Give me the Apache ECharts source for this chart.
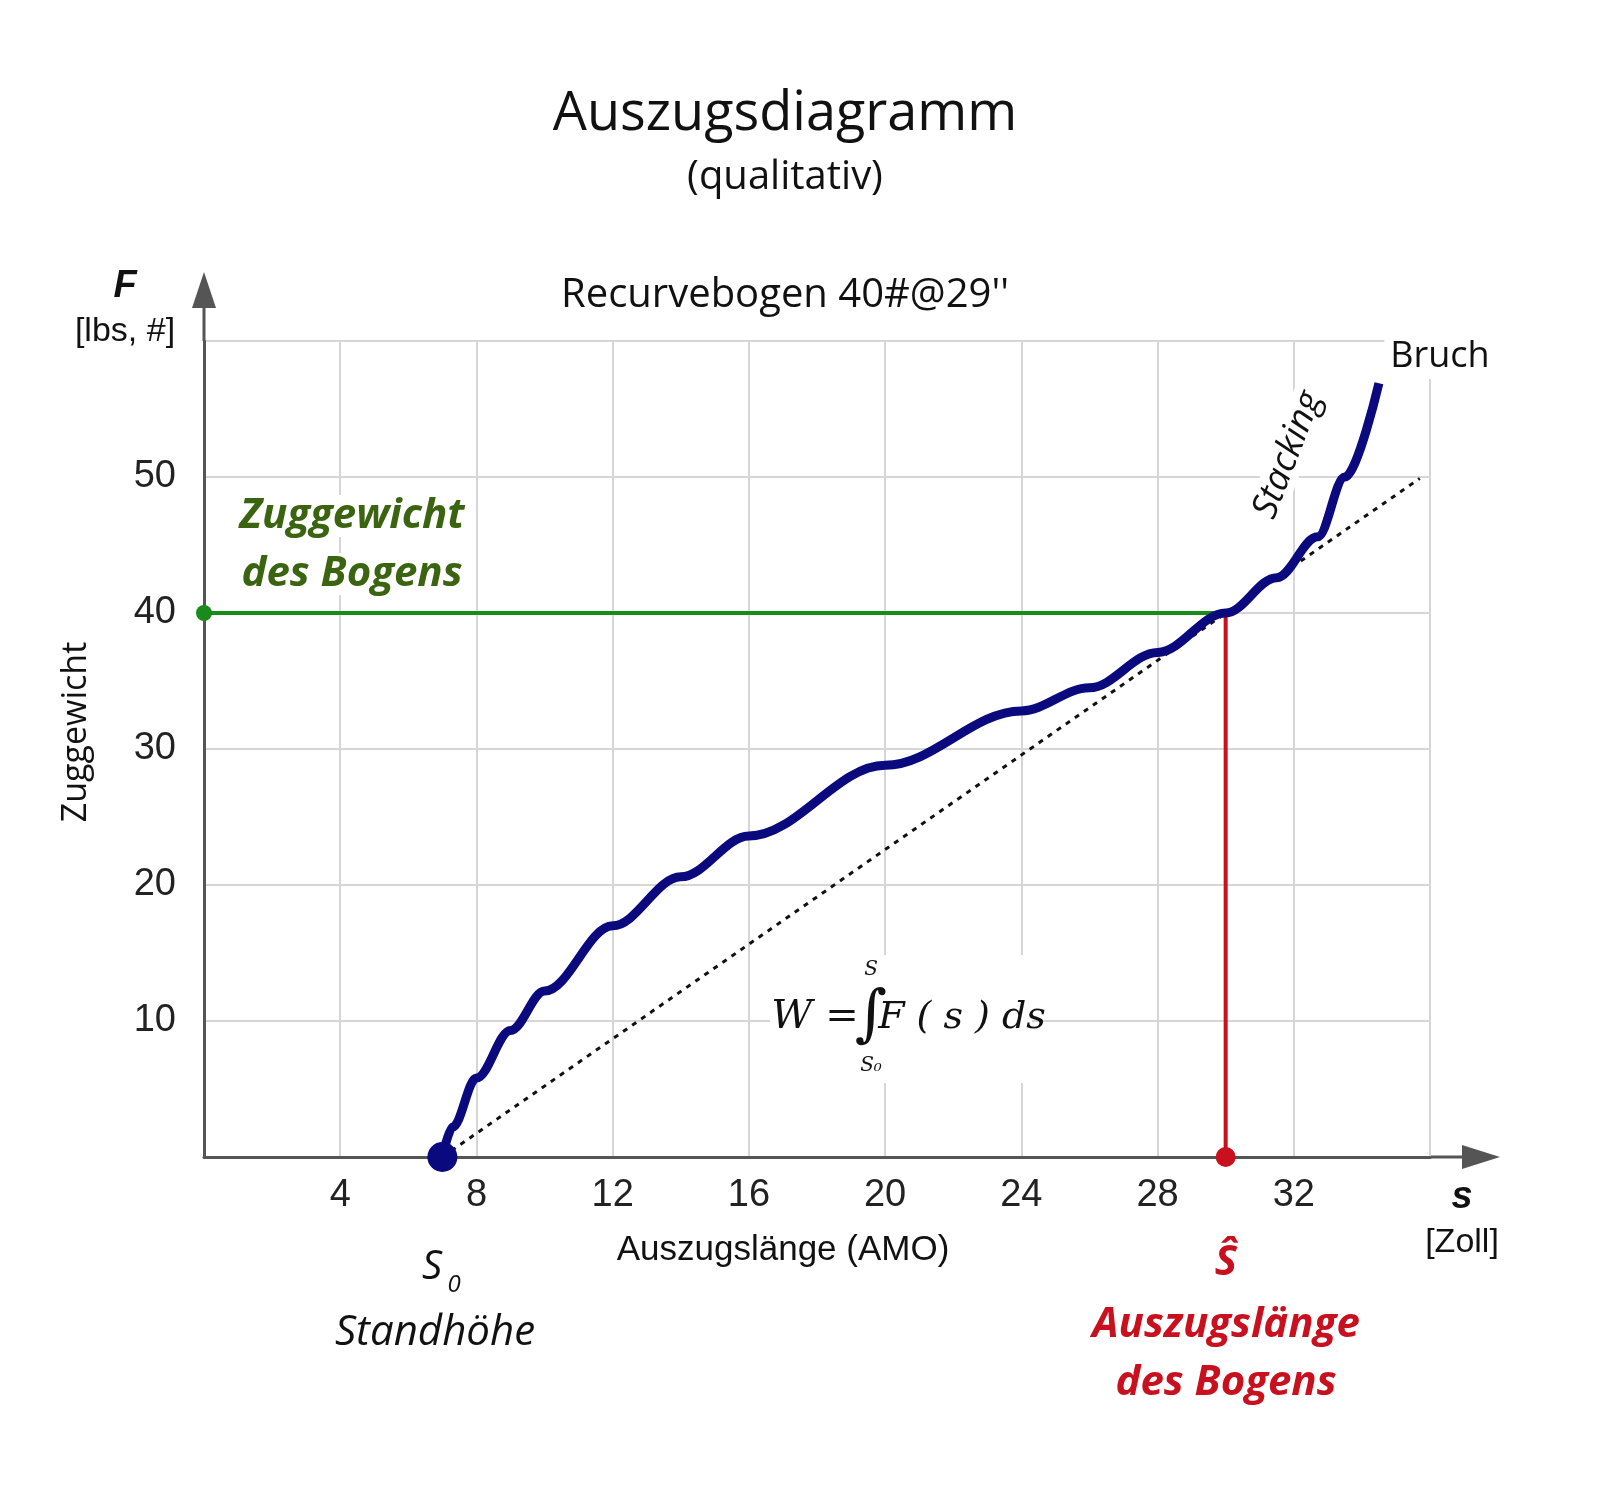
<!DOCTYPE html>
<html>
<head>
<meta charset="utf-8">
<script src="https://cdn.jsdelivr.net/npm/echarts@6/dist/echarts.min.js"></script>
<style>html,body{margin:0;background:#fff}#chart{width:1600px;height:1495px}</style>
</head>
<body>
<div id="chart"></div>
<script>
// Auszugskurve (s in Zoll, F in lbs)
var curveS = [7, 7.3, 8, 9, 10, 12, 14, 16, 20, 24, 26, 28, 30, 31.5, 32.7, 33.5, 34.5];
var curveF = [0, 2.2, 5.8, 9.3, 12.2, 17, 20.6, 23.6, 28.8, 32.8, 34.5, 37.1, 40, 42.6, 45.6, 50, 56.9];
var lineS = [7, 35.7];
var lineF = [0, 49.9];
var drawWeight = 40;
var drawLength = 30;
var xTicks = [4, 8, 12, 16, 20, 24, 28, 32];
var yTicks = [10, 20, 30, 40, 50];

function pairs(a, b) { return a.map(function (v, i) { return [v, b[i]]; }); }

function txt(x, y, text, font, fill, extra) {
    var o = { type: 'text', x: x, y: y, z: 100,
        style: { text: text, font: font, fill: fill || '#111', align: 'center', verticalAlign: 'middle' } };
    if (extra) { for (var k in extra) { if (k === 'style') { for (var s in extra.style) o.style[s] = extra.style[s]; } else o[k] = extra[k]; } }
    return o;
}

var myChart = echarts.init(document.getElementById('chart'));
var option = {
    animation: false,
    grid: { left: 204, right: 170, top: 341, bottom: 338 },
    xAxis: {
        type: 'value', min: 0, max: 36, interval: 4,
        axisLine: { lineStyle: { color: '#555', width: 3 } },
        axisTick: { show: false },
        axisLabel: {
            fontSize: 38, color: '#222', fontFamily: 'Liberation Sans', margin: 20,
            formatter: function (v) { return xTicks.indexOf(v) >= 0 ? v : ''; }
        },
        splitLine: { lineStyle: { color: '#d6d6d6', width: 2 } }
    },
    yAxis: {
        type: 'value', min: 0, max: 60, interval: 10,
        axisLine: { lineStyle: { color: '#555', width: 3 } },
        axisTick: { show: false },
        axisLabel: {
            fontSize: 38, color: '#222', fontFamily: 'Liberation Sans', margin: 28,
            formatter: function (v) { return yTicks.indexOf(v) >= 0 ? v : ''; }
        },
        splitLine: { lineStyle: { color: '#d6d6d6', width: 2 } }
    },
    series: [
        {
            type: 'line', data: pairs(lineS, lineF), symbol: 'none',
            lineStyle: { color: '#111', width: 3, type: [5, 6] }, z: 2
        },
        {
            type: 'line', data: [[0, drawWeight], [drawLength, drawWeight]],
            symbol: 'none', lineStyle: { color: '#1a8a1a', width: 4 }, z: 3
        },
        {
            type: 'line', data: [[drawLength, 0], [drawLength, drawWeight]],
            symbol: 'none', lineStyle: { color: '#c8101e', width: 4 }, z: 3
        },
        {
            type: 'line', data: pairs(curveS, curveF), smooth: 0.35, smoothMonotone: 'x', symbol: 'none',
            lineStyle: { color: '#0a0a7e', width: 9 }, z: 4
        },
        {
            type: 'scatter', symbolSize: 16, z: 5, data: [[0, drawWeight]],
            itemStyle: { color: '#1a8a1a', opacity: 1 }
        },
        {
            type: 'scatter', symbolSize: 20, z: 5, data: [[drawLength, 0]],
            itemStyle: { color: '#c8101e', opacity: 1 }
        },
        {
            type: 'scatter', symbolSize: 30, z: 5, data: [[curveS[0], curveF[0]]],
            itemStyle: { color: '#0a0a7e', opacity: 1 }
        }
    ],
    graphic: [
        // Pfeile der Achsen
        { type: 'line', shape: { x1: 204, y1: 341, x2: 204, y2: 290 }, style: { stroke: '#555', lineWidth: 3 } },
        { type: 'polygon', shape: { points: [[204, 272], [192, 308], [216, 308]] }, style: { fill: '#555' } },
        { type: 'line', shape: { x1: 1430, y1: 1157, x2: 1470, y2: 1157 }, style: { stroke: '#555', lineWidth: 3 } },
        { type: 'polygon', shape: { points: [[1500, 1157], [1462, 1145], [1462, 1169]] }, style: { fill: '#555' } },
        // Titel
        txt(785, 115, 'Auszugsdiagramm', '54px "Open Sans"'),
        txt(785, 178, '(qualitativ)', '40px "Open Sans"'),
        txt(785, 296, 'Recurvebogen 40#@29\'\'', '40px "Open Sans"'),
        // Achsentitel
        txt(125, 287, 'F', 'italic bold 38px "Liberation Sans"'),
        txt(125, 332, '[lbs, #]', '34px "Liberation Sans"'),
        txt(76, 732, 'Zuggewicht', '34px "Open Sans"', null, { rotation: Math.PI / 2 }),
        txt(1462, 1198, 's', 'italic bold 38px "Liberation Sans"'),
        txt(1462, 1243, '[Zoll]', '34px "Liberation Sans"'),
        txt(783, 1250, 'Auszugslänge (AMO)', '35px "Liberation Sans"'),
        // Beschriftungen
        txt(352, 516, 'Zuggewicht', 'italic bold 42px "Open Sans"', '#3a6410', { style: { backgroundColor: '#fff' } }),
        txt(352, 574, 'des Bogens', 'italic bold 42px "Open Sans"', '#3a6410', { style: { backgroundColor: '#fff' } }),
        txt(432, 1268, 'S', 'italic 40px "Open Sans"'),
        txt(454, 1285, '0', 'italic 24px "Open Sans"'),
        txt(435, 1333, 'Standhöhe', 'italic 42px "Open Sans"'),
        txt(1226, 1263, 'Ŝ', 'italic bold 42px "Open Sans"', '#c8101e'),
        txt(1226, 1325, 'Auszugslänge', 'italic bold 42px "Open Sans"', '#c8101e'),
        txt(1226, 1383, 'des Bogens', 'italic bold 42px "Open Sans"', '#c8101e'),
        txt(1440, 357, 'Bruch', '36px "Open Sans"', null, { style: { backgroundColor: '#fff', padding: [4, 6] } }),
        txt(1288, 455, 'Stacking', 'italic 36px "Open Sans"', null, { rotation: 1.2, style: { backgroundColor: '#fff' } }),
        // Formel
        { type: 'rect', shape: { x: 770, y: 955, width: 262, height: 128 }, style: { fill: '#fff' }, z: 50 },
        txt(815, 1018, 'W =', 'italic 40px "DejaVu Serif"'),
        txt(871, 1018, '∫', '62px "DejaVu Serif"'),
        txt(962, 1018, 'F ( s ) ds', 'italic 38px "DejaVu Serif"'),
        txt(871, 970, 'S', 'italic 20px "DejaVu Serif"'),
        txt(871, 1066, 'S₀', 'italic 20px "DejaVu Serif"')
    ]
};
myChart.setOption(option);
</script>
</body>
</html>
